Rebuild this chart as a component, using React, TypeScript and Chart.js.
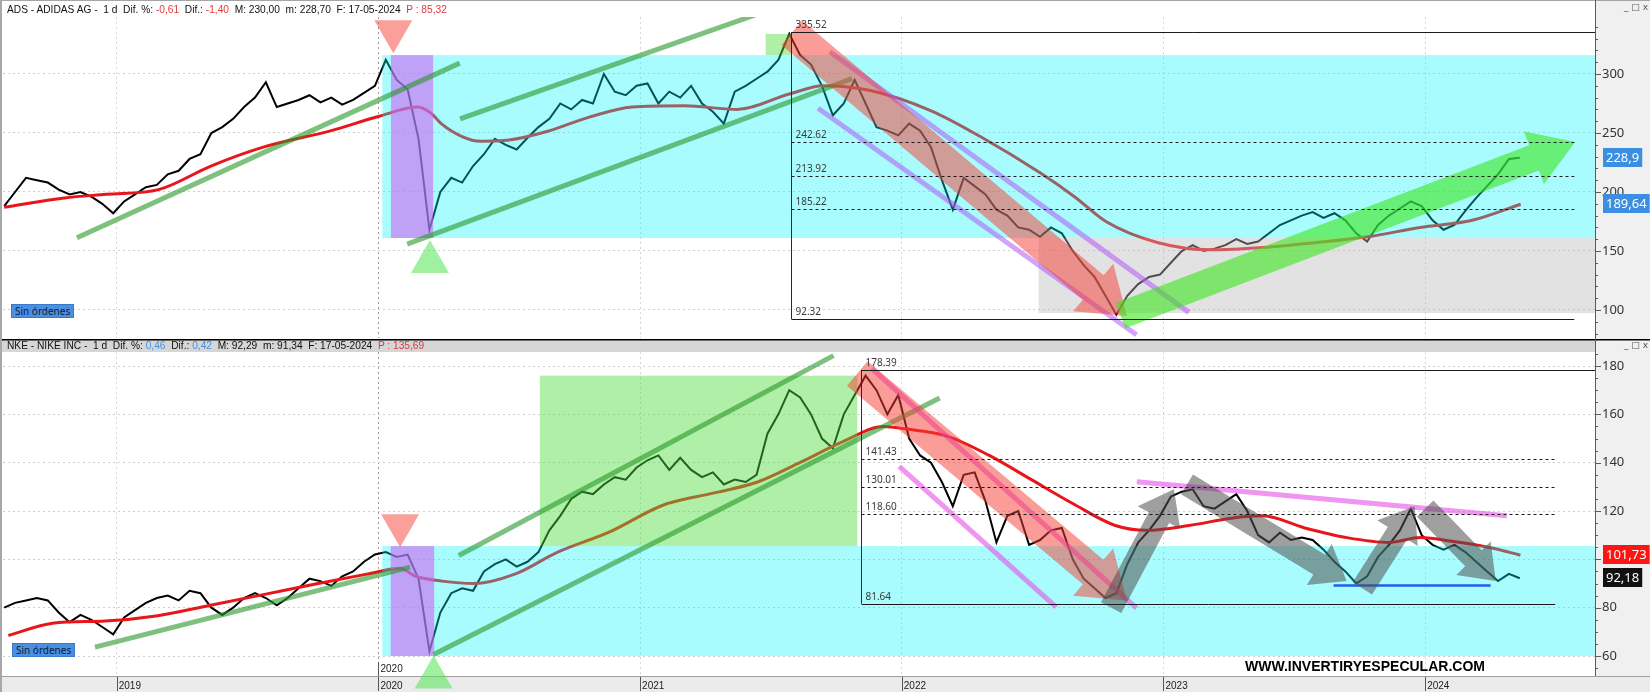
import React, { useEffect, useRef } from 'react';
import { Chart, registerables } from 'chart.js';

Chart.register(...registerables);

// ---------- shared time axis (decimal years) ----------
const X_MIN = 2018.5655;
const X_MAX = 2024.649;
const YEAR_TICKS = [2019, 2020, 2021, 2022, 2023, 2024];
const FIRST_SAMPLE = 2018.57; // closes sampled twice a month
const SAMPLES_PER_YEAR = 24;

// ---------- ADIDAS (ADS) ----------
const ADS_CLOSE = [
  188, 200, 212, 210, 208, 202, 198, 200, 196, 190,
  182, 192, 198, 204, 206, 215, 218, 228, 232, 250,
  255, 262, 272, 280, 293, 272, 275, 278, 282, 276,
  280, 274, 278, 284, 290, 312, 295, 287, 245, 168,
  200, 212, 208, 222, 232, 245, 240, 236, 246, 255,
  262, 275, 270, 278, 275, 300, 285, 282, 290, 292,
  275, 285, 280, 290, 275, 268, 258, 285, 290, 296,
  302, 312, 334, 316, 308, 290, 265, 275, 295, 275,
  255, 252, 248, 258, 252, 238, 210, 185, 212, 205,
  198, 185, 180, 170, 168, 162, 170, 165, 150, 138,
  128, 112, 96, 112, 122, 128, 130, 140, 150, 155,
  150, 152, 155, 160, 156, 158, 165, 172, 176, 180,
  183, 178, 182, 176, 165, 158, 172, 180, 186, 192,
  188, 176, 168, 172, 184, 195, 205, 215, 228, 229,
];
const ADS_MA_YEARS = [
  2018.57, 2018.8, 2018.96, 2019.16, 2019.36, 2019.56, 2019.82, 2020.0, 2020.15, 2020.2,
  2020.24, 2020.32, 2020.39, 2020.5, 2020.64, 2020.8, 2020.97, 2021.17, 2021.37, 2021.57,
  2021.7, 2021.88, 2022.11, 2022.3, 2022.53, 2022.66, 2022.78, 2022.98, 2023.18, 2023.38,
  2023.58, 2023.78, 2023.98, 2024.18, 2024.365,
];
const ADS_MA = [
  187, 195, 198, 202, 222, 238, 252, 264, 272, 267,
  258, 247, 243, 244, 251, 263, 272, 273, 270, 283,
  290, 286, 269, 247, 216, 196, 175, 157, 151, 153,
  157, 162, 170, 176, 189.64,
];
const ADS_Y_MIN = 76.27;
const ADS_Y_MAX = 348.3;
const ADS_Y_LABELS = [100, 150, 200, 250, 300];
const ADS_Y_MINOR = 10;
const ADS_FIB_YEAR = 2021.577;
const ADS_FIB_LEVELS = [335.52, 242.62, 213.92, 185.22, 92.32];
const ADS_FIB_END = [2024.649, 2024.57, 2024.57, 2024.57, 2024.57];
const ADS_ZONES = [
  { kind: 'cyan', x0: 2020.015, x1: 2025, y0: 161, y1: 316 },
  { kind: 'grey', x0: 2022.523, x1: 2025, y0: 97.4, y1: 161 },
  { kind: 'purple', x0: 2020.048, x1: 2020.209, y0: 161, y1: 316 },
  { kind: 'green', x0: 2021.48, x1: 2021.577, y0: 316, y1: 334 },
];
const ADS_TRENDLINES = [
  { kind: 'green', x0: 2018.848, y0: 161.2, x1: 2020.311, y1: 309.2 },
  { kind: 'green', x0: 2020.312, y0: 262, x1: 2021.554, y1: 359 },
  { kind: 'green', x0: 2020.11, y0: 155.8, x1: 2021.81, y1: 296 },
  { kind: 'violet', x0: 2021.725, y0: 318.9, x1: 2023.097, y1: 98 },
  { kind: 'violet', x0: 2021.68, y0: 271, x1: 2022.897, y1: 79 },
];
const ADS_ARROWS = [
  { kind: 'red', x0: 2021.58, y0: 335, x1: 2022.86, y1: 95 },
  { kind: 'lime', x0: 2022.836, y0: 95.2, x1: 2024.573, y1: 242.3 },
];
const ADS_MARKERS = [
  { kind: 'down', x: 2020.057, y: 317.5 },
  { kind: 'up', x: 2020.197, y: 159.3 },
];
const ADS_BADGES = [
  { value: 228.9, text: '228,9', kind: 'blue' },
  { value: 189.64, text: '189,64', kind: 'blue' },
];

// ---------- NIKE (NKE) ----------
const NKE_CLOSE = [
  80, 82, 83, 84, 83, 78, 74, 77, 75, 72,
  69, 76, 79, 82, 84, 85, 83, 87, 86, 80,
  77, 80, 84, 86, 84, 81, 84, 88, 92, 91,
  89, 93, 95, 99, 102, 103, 101, 102, 92, 62,
  78, 86, 88, 87, 95, 98, 100, 97, 99, 103,
  112, 118, 125, 128, 127, 131, 134, 133, 138, 141,
  143, 137, 142, 137, 134, 136, 131, 133, 132, 135,
  152, 160, 170, 167, 160, 150, 146, 160, 168, 176,
  170, 160, 168, 150, 143, 140, 132, 122, 135, 136,
  124, 107, 118, 120, 106, 108, 112, 113, 100, 92,
  88, 84, 86, 98, 107, 112, 118, 126, 128, 129,
  122, 121, 124, 127, 120, 110, 107, 111, 108, 109,
  108, 104, 99, 95, 90, 93, 101, 106, 112, 121,
  110, 106, 104, 106, 103, 99, 95, 91, 94, 92.18,
];
const NKE_MA_YEARS = [
  2018.586, 2018.755, 2018.956, 2019.157, 2019.358, 2019.56, 2019.76, 2019.961, 2020.082, 2020.142,
  2020.243, 2020.364, 2020.524, 2020.685, 2020.886, 2021.087, 2021.288, 2021.449, 2021.61, 2021.771,
  2021.932, 2022.012, 2022.173, 2022.334, 2022.495, 2022.655, 2022.816, 2022.937, 2023.098, 2023.259,
  2023.379, 2023.54, 2023.701, 2023.862, 2023.982, 2024.103, 2024.264, 2024.364,
];
const NKE_MA = [
  68.5, 73.6, 74.5, 76.7, 81, 85.4, 89.8, 94, 96.3, 93,
  91, 90, 94, 103, 111.5, 122.4, 127.6, 132, 140, 148.5,
  155, 154, 151, 143, 133, 123, 114, 112, 114, 117,
  118, 113, 109, 107, 109, 107.5, 104.5, 101.73,
];
const NKE_Y_MIN = 51.74;
const NKE_Y_MAX = 185.8;
const NKE_Y_LABELS = [60, 80, 100, 120, 140, 160, 180];
const NKE_Y_MINOR = 5;
const NKE_FIB_YEAR = 2021.843;
const NKE_FIB_LEVELS = [178.39, 141.43, 130.01, 118.6, 81.64];
const NKE_FIB_END = [2024.649, 2024.497, 2024.497, 2024.497, 2024.497];
const NKE_ZONES = [
  { kind: 'cyan', x0: 2020.015, x1: 2025, y0: 60, y1: 105.5 },
  { kind: 'purple', x0: 2020.047, x1: 2020.213, y0: 60, y1: 105.5 },
  { kind: 'green', x0: 2020.617, x1: 2021.83, y0: 105.5, y1: 176 },
];
const NKE_TRENDLINES = [
  { kind: 'green', x0: 2018.917, y0: 63.7, x1: 2020.121, y1: 96.8 },
  { kind: 'green', x0: 2020.307, y0: 101.6, x1: 2021.739, y1: 184.3 },
  { kind: 'green', x0: 2020.211, y0: 60.6, x1: 2022.145, y1: 166.8 },
  { kind: 'magenta', x0: 2021.885, y0: 179, x1: 2022.897, y1: 79.8 },
  { kind: 'magenta', x0: 2021.99, y0: 138.5, x1: 2022.59, y1: 80.2 },
  { kind: 'magenta', x0: 2022.898, y0: 132.1, x1: 2024.312, y1: 118 },
  { kind: 'blue', x0: 2023.65, y0: 89.2, x1: 2024.25, y1: 89.2 },
];
const NKE_ARROWS = [
  { kind: 'red', x0: 2021.83, y0: 176.9, x1: 2022.86, y1: 83 },
  { kind: 'grey', x0: 2022.8, y0: 80, x1: 2023.04, y1: 129 },
  { kind: 'grey', x0: 2023.09, y0: 131, x1: 2023.7, y1: 91 },
  { kind: 'grey', x0: 2023.76, y0: 88, x1: 2023.96, y1: 122 },
  { kind: 'grey', x0: 2024.0, y0: 121, x1: 2024.27, y1: 91 },
];
const NKE_MARKERS = [
  { kind: 'down', x: 2020.083, y: 105 },
  { kind: 'up', x: 2020.211, y: 60.2 },
];
const NKE_BADGES = [
  { value: 101.73, text: '101,73', kind: 'red' },
  { value: 92.18, text: '92,18', kind: 'black' },
];

// ---------- styles ----------
const ZONE_FILL: any = {
  cyan: 'rgba(0,245,250,0.34)',
  grey: 'rgba(185,185,185,0.42)',
  purple: 'rgba(206,100,244,0.6)',
  green: 'rgba(80,220,60,0.45)',
};
const LINE_STYLE: any = {
  green: { color: 'rgba(40,150,40,0.6)', width: 5 },
  violet: { color: 'rgba(175,90,245,0.55)', width: 5 },
  magenta: { color: 'rgba(230,80,230,0.6)', width: 5 },
  blue: { color: '#1f5fe8', width: 2.5 },
};
const ARROW_STYLE: any = {
  red: { color: 'rgba(245,60,50,0.5)', w: 32, hw: 62, hl: 44 },
  lime: { color: 'rgba(60,230,30,0.6)', w: 27, hw: 56, hl: 44 },
  grey: { color: 'rgba(80,80,80,0.55)', w: 23, hw: 48, hl: 32 },
};
const MARKER_FILL: any = { down: 'rgba(245,80,70,0.55)', up: 'rgba(80,230,80,0.55)' };
const BADGE_FILL: any = { blue: '#3b8ee0', red: '#ff1414', black: '#111111' };
const TICK_FONT = '"Noto Sans", "Open Sans", sans-serif';

function tickValues(min: number, max: number, step: number) {
  const out: number[] = [];
  for (let v = Math.ceil(min / step) * step; v <= max; v += step) out.push(v);
  return out;
}

function drawArrow(ctx: any, x0: number, y0: number, x1: number, y1: number, st: any) {
  const dx = x1 - x0, dy = y1 - y0;
  const len = Math.hypot(dx, dy);
  const ux = dx / len, uy = dy / len;
  const nx = -uy, ny = ux;
  const bx = x1 - ux * st.hl, by = y1 - uy * st.hl;
  ctx.beginPath();
  ctx.moveTo(x0 + nx * st.w / 2, y0 + ny * st.w / 2);
  ctx.lineTo(bx + nx * st.w / 2, by + ny * st.w / 2);
  ctx.lineTo(bx + nx * st.hw / 2, by + ny * st.hw / 2);
  ctx.lineTo(x1, y1);
  ctx.lineTo(bx - nx * st.hw / 2, by - ny * st.hw / 2);
  ctx.lineTo(bx - nx * st.w / 2, by - ny * st.w / 2);
  ctx.lineTo(x0 - nx * st.w / 2, y0 - ny * st.w / 2);
  ctx.closePath();
  ctx.fillStyle = st.color;
  ctx.fill();
}

function overlayPlugin(p: any) {
  return {
    id: 'overlay_' + p.id,
    beforeDraw(chart: any) {
      const { ctx, chartArea: a, width, height } = chart;
      ctx.save();
      ctx.fillStyle = '#ffffff';
      ctx.fillRect(0, 0, width, height);
      ctx.fillStyle = '#f0f0f0';
      ctx.fillRect(a.right, 0, width - a.right, height);
      if (p.greyHeader) {
        ctx.fillStyle = '#d6d6d6';
        ctx.fillRect(0, 0, a.right, a.top);
        ctx.fillStyle = '#000';
        ctx.fillRect(0, 0, width, 1.5);
      } else {
        ctx.fillStyle = '#a5a5a5';
        ctx.fillRect(0, 0, width, 1);
      }
      if (p.strip) {
        ctx.fillStyle = '#ebebeb';
        ctx.fillRect(0, a.bottom, width, height - a.bottom);
        ctx.fillStyle = '#a0a0a0';
        ctx.fillRect(0, a.bottom, width, 1);
      }
      ctx.fillStyle = '#a8a8a8';
      ctx.fillRect(0, 0, 2, height);
      ctx.restore();
    },
    afterDatasetsDraw(chart: any) {
      const { ctx, chartArea: a } = chart;
      const X = (v: number) => chart.scales.x.getPixelForValue(v);
      const Y = (v: number) => chart.scales.y.getPixelForValue(v);
      ctx.save();
      ctx.beginPath();
      ctx.rect(a.left, a.top, a.right - a.left, a.bottom - a.top);
      ctx.clip();
      for (const z of p.zones) {
        ctx.fillStyle = ZONE_FILL[z.kind];
        const xa = X(z.x0), xb = X(z.x1), ya = Y(z.y1), yb = Y(z.y0);
        ctx.fillRect(xa, ya, xb - xa, yb - ya);
      }
      for (const l of p.lines) {
        const st = LINE_STYLE[l.kind];
        ctx.strokeStyle = st.color;
        ctx.lineWidth = st.width;
        ctx.lineCap = 'butt';
        ctx.beginPath();
        ctx.moveTo(X(l.x0), Y(l.y0));
        ctx.lineTo(X(l.x1), Y(l.y1));
        ctx.stroke();
      }
      for (const r of p.arrows) {
        drawArrow(ctx, X(r.x0), Y(r.y0), X(r.x1), Y(r.y1), ARROW_STYLE[r.kind]);
      }
      // fibonacci retracement
      const fx = Math.round(X(p.fibYear)) + 0.5;
      const lv = p.fibLevels;
      ctx.strokeStyle = '#2a2a2a';
      ctx.lineWidth = 1;
      ctx.setLineDash([]);
      ctx.beginPath();
      ctx.moveTo(fx, Y(lv[0]));
      ctx.lineTo(fx, Y(lv[lv.length - 1]));
      ctx.stroke();
      ctx.font = '10px ' + TICK_FONT;
      ctx.textBaseline = 'bottom';
      ctx.textAlign = 'left';
      lv.forEach((v: number, i: number) => {
        const y = Math.round(Y(v)) + 0.5;
        const dashed = i > 0 && i < lv.length - 1;
        ctx.setLineDash(dashed ? [3, 3] : []);
        ctx.strokeStyle = '#1a1a1a';
        ctx.beginPath();
        ctx.moveTo(fx, y);
        ctx.lineTo(X(p.fibEnd[i]), y);
        ctx.stroke();
        ctx.fillStyle = '#3a3a3a';
        ctx.fillText(v.toFixed(2), fx + 4, y - 2);
      });
      ctx.setLineDash([]);
      ctx.restore();
      // triangles (not clipped)
      ctx.save();
      for (const m of p.markers) {
        const x = X(m.x), y = Y(m.y);
        const w = 38, h = 33;
        const dir = m.kind === 'down' ? -1 : 1;
        ctx.beginPath();
        ctx.moveTo(x, y);
        ctx.lineTo(x - w / 2, y + dir * h);
        ctx.lineTo(x + w / 2, y + dir * h);
        ctx.closePath();
        ctx.fillStyle = MARKER_FILL[m.kind];
        ctx.fill();
      }
      ctx.restore();
    },
    afterDraw(chart: any) {
      const { ctx, chartArea: a, height } = chart;
      const X = (v: number) => chart.scales.x.getPixelForValue(v);
      const ys = chart.scales.y;
      ctx.save();
      // right axis line + tick marks
      ctx.fillStyle = '#5a5a5a';
      ctx.fillRect(a.right, 0, 1, p.strip ? a.bottom : height);
      for (const t of ys.ticks) {
        const y = Math.round(ys.getPixelForValue(t.value)) + 0.5;
        if (y < a.top || y > a.bottom) continue;
        const major = p.yLabels.includes(t.value);
        ctx.strokeStyle = '#5a5a5a';
        ctx.lineWidth = 1;
        ctx.beginPath();
        ctx.moveTo(a.right, y);
        ctx.lineTo(a.right + (major ? 6 : 3), y);
        ctx.stroke();
      }
      // price badges
      ctx.font = '13px ' + TICK_FONT;
      ctx.textBaseline = 'middle';
      ctx.textAlign = 'left';
      for (const b of p.badges) {
        const y = ys.getPixelForValue(b.value);
        const tw = ctx.measureText(b.text).width;
        ctx.fillStyle = BADGE_FILL[b.kind];
        ctx.fillRect(a.right + 8, Math.round(y - 10), tw + 6, 19);
        ctx.fillStyle = '#ffffff';
        ctx.fillText(b.text, a.right + 11, y);
      }
      if (p.strip) {
        ctx.strokeStyle = '#555';
        ctx.lineWidth = 1;
        for (const yr of YEAR_TICKS) {
          const x = Math.round(X(yr)) + 0.5;
          ctx.beginPath();
          ctx.moveTo(x, a.bottom + 1);
          ctx.lineTo(x, height - 1);
          ctx.stroke();
        }
        // session marker at 2020
        const x20 = Math.round(X(2020)) + 0.5;
        ctx.beginPath();
        ctx.moveTo(x20, a.bottom - 14);
        ctx.lineTo(x20, a.bottom);
        ctx.stroke();
        ctx.fillStyle = '#222';
        ctx.font = '10px "Liberation Sans", Arial, sans-serif';
        ctx.textBaseline = 'bottom';
        ctx.fillText('2020', x20 + 2, a.bottom - 2);
        // watermark
        const wm = 'WWW.INVERTIRYESPECULAR.COM';
        ctx.font = 'bold 15px "Liberation Sans", Arial, sans-serif';
        const ww = ctx.measureText(wm).width;
        ctx.translate(1245, 332);
        ctx.scale(240 / ww, 1);
        ctx.fillStyle = '#000';
        ctx.textBaseline = 'alphabetic';
        ctx.fillText(wm, 0, 0);
      }
      ctx.restore();
    },
  };
}

function makeConfig(p: any): any {
  const close = p.close.map((v: number, i: number) => ({ x: FIRST_SAMPLE + i / SAMPLES_PER_YEAR, y: v }));
  const ma = p.maYears.map((x: number, i: number) => ({ x, y: p.ma[i] }));
  const yTicks = tickValues(p.yMin, p.yMax, p.yMinor);
  return {
    type: 'line',
    data: {
      datasets: [
        { data: ma, borderColor: '#e8161b', borderWidth: 3, pointRadius: 0, cubicInterpolationMode: 'monotone', fill: false },
        { data: close, borderColor: '#000000', borderWidth: 2, pointRadius: 0, tension: 0, fill: false },
      ],
    },
    options: {
      animation: false,
      responsive: false,
      maintainAspectRatio: false,
      events: [],
      layout: { padding: { left: 3, right: 0, top: p.padTop, bottom: p.padBottom } },
      plugins: { legend: { display: false }, tooltip: { enabled: false } },
      scales: {
        x: {
          type: 'linear',
          min: X_MIN,
          max: X_MAX,
          afterBuildTicks: (s: any) => { s.ticks = YEAR_TICKS.map((v) => ({ value: v })); },
          ticks: {
            display: p.strip,
            callback: (v: any) => String(v),
            font: { family: '"Liberation Sans", Arial, sans-serif', size: 10 },
            color: '#222',
            padding: 4,
            align: 'start',
            labelOffset: 2,
            maxRotation: 0,
            autoSkip: false,
          },
          grid: {
            color: (c: any) => (c.tick && c.tick.value === 2020 ? '#9a9a9a' : '#d6d6d6'),
            drawTicks: false,
            lineWidth: 1,
          },
          border: { display: false, dash: [2, 3] },
          afterFit: (s: any) => { s.height = p.strip ? 16 : 0; s.paddingLeft = 0; s.paddingRight = 0; },
        },
        y: {
          position: 'right',
          min: p.yMin,
          max: p.yMax,
          afterBuildTicks: (s: any) => { s.ticks = yTicks.map((v) => ({ value: v })); },
          ticks: {
            callback: (v: any) => (p.yLabels.includes(v) ? String(v) : ''),
            font: { family: TICK_FONT, size: 13 },
            color: '#333',
            padding: 7,
            autoSkip: false,
          },
          grid: {
            color: (c: any) => (c.tick && p.yLabels.includes(c.tick.value) ? '#cfcfcf' : 'rgba(0,0,0,0)'),
            drawTicks: false,
          },
          border: { display: false, dash: [2, 3] },
          afterFit: (s: any) => { s.width = 55; s.paddingTop = 0; s.paddingBottom = 0; },
        },
      },
    },
    plugins: [overlayPlugin(p)],
  };
}

const ADS_PANEL = {
  id: 'ads', close: ADS_CLOSE, maYears: ADS_MA_YEARS, ma: ADS_MA,
  yMin: ADS_Y_MIN, yMax: ADS_Y_MAX, yLabels: ADS_Y_LABELS, yMinor: ADS_Y_MINOR,
  fibYear: ADS_FIB_YEAR, fibLevels: ADS_FIB_LEVELS, fibEnd: ADS_FIB_END,
  zones: ADS_ZONES, lines: ADS_TRENDLINES, arrows: ADS_ARROWS, markers: ADS_MARKERS, badges: ADS_BADGES,
  padTop: 17, padBottom: 1, strip: false, greyHeader: false,
};
const NKE_PANEL = {
  id: 'nke', close: NKE_CLOSE, maYears: NKE_MA_YEARS, ma: NKE_MA,
  yMin: NKE_Y_MIN, yMax: NKE_Y_MAX, yLabels: NKE_Y_LABELS, yMinor: NKE_Y_MINOR,
  fibYear: NKE_FIB_YEAR, fibLevels: NKE_FIB_LEVELS, fibEnd: NKE_FIB_END,
  zones: NKE_ZONES, lines: NKE_TRENDLINES, arrows: NKE_ARROWS, markers: NKE_MARKERS, badges: NKE_BADGES,
  padTop: 13, padBottom: 0, strip: true, greyHeader: true,
};

const HEAD_STYLE: any = {
  position: 'absolute', left: 7, font: '10.2px "Liberation Sans", Arial, sans-serif',
  lineHeight: '12px', color: '#111', whiteSpace: 'pre',
};
const RED = '#e0393b';
const BLUE = '#4a90e2';
const BTN_STYLE: any = {
  position: 'absolute', height: 14, padding: '0 3px', background: '#4b8fe0', border: '1px solid #3a78c8',
  font: '10px "Noto Sans", "Open Sans", sans-serif', lineHeight: '12px', color: '#0d1d3d',
  whiteSpace: 'nowrap', boxSizing: 'border-box',
};
const WIN_STYLE: any = {
  position: 'absolute', left: 1624, font: '9px "DejaVu Sans", sans-serif', color: '#555', whiteSpace: 'pre',
};

export default function App() {
  const topRef = useRef<HTMLCanvasElement>(null);
  const botRef = useRef<HTMLCanvasElement>(null);
  useEffect(() => {
    const c1 = new Chart(topRef.current as any, makeConfig(ADS_PANEL));
    const c2 = new Chart(botRef.current as any, makeConfig(NKE_PANEL));
    return () => { c1.destroy(); c2.destroy(); };
  }, []);
  return (
    <div style={{ position: 'fixed', left: 0, top: 0, width: 1650, height: 692, background: '#fff', overflow: 'hidden' }}>
      <canvas ref={topRef} width={1650} height={339} style={{ position: 'absolute', left: 0, top: 0 }} />
      <canvas ref={botRef} width={1650} height={353} style={{ position: 'absolute', left: 0, top: 339 }} />
      <div style={{ ...HEAD_STYLE, top: 4 }}>
        {'ADS - ADIDAS AG -  1 d  Dif. %: '}<span style={{ color: RED }}>-0,61</span>
        {'  Dif.: '}<span style={{ color: RED }}>-1,40</span>
        {'  M: 230,00  m: 228,70  F: 17-05-2024  '}<span style={{ color: RED }}>P : 85,32</span>
      </div>
      <div style={{ ...HEAD_STYLE, top: 340 }}>
        {'NKE - NIKE INC -  1 d  Dif. %: '}<span style={{ color: BLUE }}>0,46</span>
        {'  Dif.: '}<span style={{ color: BLUE }}>0,42</span>
        {'  M: 92,29  m: 91,34  F: 17-05-2024  '}<span style={{ color: RED }}>P : 135,69</span>
      </div>
      <div style={{ ...BTN_STYLE, left: 11, top: 304 }}>Sin órdenes</div>
      <div style={{ ...BTN_STYLE, left: 12, top: 643 }}>Sin órdenes</div>
      <div style={{ ...WIN_STYLE, top: 2 }}>{'_ □ x'}</div>
      <div style={{ ...WIN_STYLE, top: 340 }}>{'_ □ x'}</div>
    </div>
  );
}
